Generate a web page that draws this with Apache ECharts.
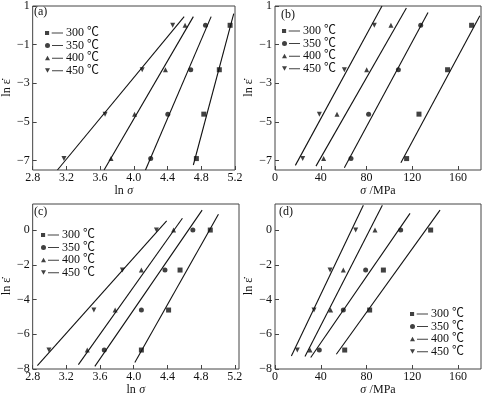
<!DOCTYPE html>
<html>
<head>
<meta charset="utf-8">
<script src="https://cdn.jsdelivr.net/npm/echarts@6/dist/echarts.min.js"></script>
<style>
  html, body { margin: 0; padding: 0; background: #fff; }
  #chart { width: 482px; height: 397px; }
</style>
</head>
<body>
<div id="chart"></div>
<script>
// ln(strain rate) levels: 1, 0.1, 0.01, 0.001 s^-1
const lnRate = [0, -2.303, -4.605, -6.908];
const temps = ['300 ℃', '350 ℃', '400 ℃', '450 ℃'];

// (a) ln sigma, one list per temperature
const lnSigmaA300 = [5.142, 5.014, 4.830, 4.742];
const lnSigmaA350 = [4.850, 4.675, 4.403, 4.200];
const lnSigmaA400 = [4.608, 4.375, 4.009, 3.729];
const lnSigmaA450 = [4.461, 4.099, 3.659, 3.171];
// (b) sigma / MPa
const sigmaB300 = [171.8, 150.8, 125.8, 115.0];
const sigmaB350 = [127.3, 107.8, 81.8, 66.4];
const sigmaB400 = [101.3, 80.1, 54.2, 42.5];
const sigmaB450 = [86.8, 60.6, 38.8, 24.2];
// (c) ln sigma
const lnSigmaC300 = [4.909, 4.550, 4.414, 4.091];
const lnSigmaC350 = [4.702, 4.371, 4.091, 3.650];
const lnSigmaC400 = [4.473, 4.091, 3.779, 3.448];
const lnSigmaC450 = [4.270, 3.865, 3.527, 2.993];
// (d) sigma / MPa
const sigmaD300 = [136.0, 94.7, 82.7, 60.9];
const sigmaD350 = [109.8, 79.2, 59.7, 38.7];
const sigmaD400 = [87.4, 59.7, 48.6, 30.6];
const sigmaD450 = [70.5, 48.1, 34.1, 19.5];

// fitted lines, [start, end]
const fitA300 = [[4.706, -7.24], [5.185, 0.6]];
const fitA350 = [[4.138, -7.5], [4.917, 0.45]];
const fitA400 = [[3.647, -7.5], [4.706, 0.45]];
const fitA450 = [[3.094, -7.5], [4.597, 0.45]];
const fitB300 = [[110.0, -7.12], [179.0, 0.5]];
const fitB350 = [[60.6, -7.38], [133.7, 0.66]];
const fitB400 = [[35.8, -7.3], [114.8, 0.9]];
const fitB450 = [[17.8, -7.26], [93.5, 1.0]];
const fitC300 = [[4.013, -7.63], [5.006, 0.91]];
const fitC350 = [[3.538, -7.85], [4.812, 1.15]];
const fitC400 = [[3.343, -7.75], [4.578, 0.68]];
const fitC450 = [[2.856, -7.81], [4.391, 0.53]];
const fitD300 = [[53.6, -7.15], [144.2, 1.15]];
const fitD350 = [[31.2, -7.34], [118.0, 0.96]];
const fitD400 = [[26.2, -7.28], [93.8, 1.43]];
const fitD450 = [[14.3, -7.25], [77.2, 1.43]];

// tick labels
const lnSigmaTicks = [2.8, 3.2, 3.6, 4.0, 4.4, 4.8, 5.2];
const sigmaTicks = [0, 40, 80, 120, 160];
const rateTicksTop = [-7, -5, -3, -1, 1];
const rateTicksBottom = [-8, -6, -4, -2, 0];

const panelLabels = ['(a)', '(b)', '(c)', '(d)'];

const panels = [
  { xs: [lnSigmaA300, lnSigmaA350, lnSigmaA400, lnSigmaA450], fits: [fitA300, fitA350, fitA400, fitA450] },
  { xs: [sigmaB300, sigmaB350, sigmaB400, sigmaB450], fits: [fitB300, fitB350, fitB400, fitB450] },
  { xs: [lnSigmaC300, lnSigmaC350, lnSigmaC400, lnSigmaC450], fits: [fitC300, fitC350, fitC400, fitC450] },
  { xs: [sigmaD300, sigmaD350, sigmaD400, sigmaD450], fits: [fitD300, fitD350, fitD400, fitD450] },
];

const FONT = '"Liberation Serif", "DejaVu Serif", serif';
const LEGEND_FONT = '"Liberation Serif", "Noto Sans CJK SC", serif';
const INK = '#111';
const FRAME = '#444';

const symbols = ['rect', 'circle', 'triangle', 'triangle'];
const rotations = [0, 0, 0, 180];
const legendLine = ' M7,2h11v1h-11z';
const legendIcons = [
  'path://M0.5,0.5h4v4h-4z' + legendLine,
  'path://M0,2.5a2.5,2.5 0 1,0 5,0a2.5,2.5 0 1,0 -5,0z' + legendLine,
  'path://M0,4.5L2.5,0L5,4.5z' + legendLine,
  'path://M0,0L5,0L2.5,4.5z' + legendLine,
];

const minus = (v) => String(v).replace('-', '\u2212');

function xAxisFor(gridIndex, isLn) {
  return {
    type: 'value',
    gridIndex: gridIndex,
    position: 'bottom',
    min: isLn ? 2.8 : 0,
    max: isLn ? (gridIndex === 2 ? 5.25 : 5.2) : 180,
    name: isLn ? '{n|ln} {i|σ}' : '{i|σ} {n|/MPa}',
    nameLocation: 'middle',
    nameGap: 15,
    nameTextStyle: {
      padding: isLn && gridIndex === 0 ? [0, 20, 0, 0] : 0,
      rich: {
        n: { fontFamily: FONT, fontSize: 12, color: INK },
        i: { fontFamily: FONT, fontSize: 12, fontStyle: 'italic', color: INK },
      },
    },
    axisLine: { show: false, onZero: false },
    axisTick: { inside: true, length: 4, lineStyle: { color: FRAME }, customValues: isLn ? lnSigmaTicks : sigmaTicks },
    axisLabel: {
      customValues: isLn ? lnSigmaTicks : sigmaTicks,
      formatter: (v) => (isLn ? v.toFixed(1) : String(v)),
      margin: 2,
      fontFamily: FONT,
      fontSize: 12,
      color: INK,
    },
    splitLine: { show: false },
  };
}

function yAxisFor(gridIndex, top) {
  const ticks = top ? rateTicksTop : rateTicksBottom;
  return {
    type: 'value',
    gridIndex: gridIndex,
    position: 'left',
    min: top ? -7.5 : -8,
    max: top ? 1 : 1.5,
    name: 'ln ε\u0307',
    nameLocation: 'middle',
    nameRotate: 90,
    nameGap: 18,
    nameTextStyle: { fontFamily: FONT, fontSize: 12, color: INK },
    axisLine: { show: false, onZero: false },
    axisTick: { inside: true, length: 4, lineStyle: { color: FRAME }, customValues: ticks },
    axisLabel: {
      customValues: ticks,
      formatter: minus,
      margin: 3,
      fontFamily: FONT,
      fontSize: 12,
      color: INK,
    },
    splitLine: { show: false },
  };
}

const grids = [
  { left: 30, top: 2, width: 205, height: 168 },
  { left: 275, top: 2, width: 206, height: 168 },
  { left: 30, top: 204, width: 209, height: 166 },
  { left: 275, top: 204, width: 206, height: 166 },
].map((g) => Object.assign({ show: true, borderColor: FRAME, borderWidth: 1, backgroundColor: 'transparent' }, g));

const legendSpots = [
  { left: 45, top: 27 },
  { left: 282, top: 25 },
  { left: 41, top: 229 },
  { left: 410, top: 308 },
];

const titleSpots = [
  { left: 34, top: 6 },
  { left: 281, top: 9 },
  { left: 34, top: 206 },
  { left: 279, top: 206 },
];

const series = [];
panels.forEach((panel, p) => {
  panel.xs.forEach((xs, t) => {
    series.push({
      type: 'scatter',
      name: temps[t],
      xAxisIndex: p,
      yAxisIndex: p,
      symbol: symbols[t],
      symbolRotate: rotations[t],
      symbolSize: 5,
      itemStyle: { color: INK },
      data: xs.map((x, i) => [x, lnRate[i]]),
      z: 3,
    });
  });
  panel.fits.forEach((fit) => {
    series.push({
      type: 'line',
      xAxisIndex: p,
      yAxisIndex: p,
      symbol: 'none',
      silent: true,
      lineStyle: { color: INK, width: 1.1 },
      data: fit,
      z: 2,
    });
  });
});

const option = {
  animation: false,
  backgroundColor: '#fff',
  title: panelLabels.map((text, i) => Object.assign({
    text: text,
    padding: 0,
    textStyle: { fontFamily: FONT, fontSize: 12, fontWeight: 'normal', color: INK },
  }, titleSpots[i])),
  legend: legendSpots.map((spot) => Object.assign({
    orient: 'vertical',
    padding: 0,
    itemWidth: 18,
    itemHeight: 5,
    itemGap: 0.5,
    selectedMode: false,
    textStyle: { fontFamily: LEGEND_FONT, fontSize: 12, color: INK, lineHeight: 10, padding: [0, 0, 0, -2] },
    data: temps.map((name, t) => ({ name: name, icon: legendIcons[t] })),
  }, spot)),
  grid: grids,
  xAxis: [xAxisFor(0, true), xAxisFor(1, false), xAxisFor(2, true), xAxisFor(3, false)],
  yAxis: [yAxisFor(0, true), yAxisFor(1, true), yAxisFor(2, false), yAxisFor(3, false)],
  series: series,
};

const chart = echarts.init(document.getElementById('chart'), null, { renderer: 'canvas' });
chart.setOption(option);
</script>
</body>
</html>
